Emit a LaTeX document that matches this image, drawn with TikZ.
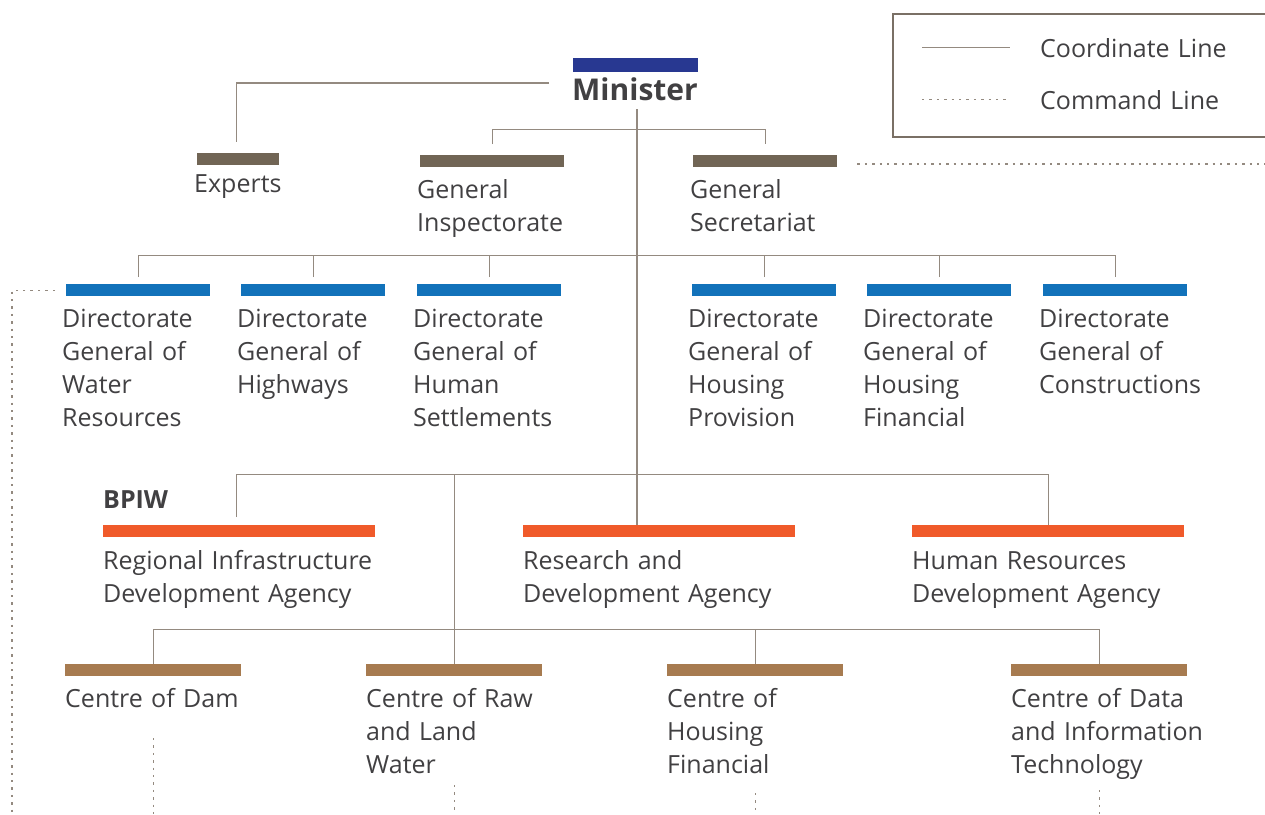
\documentclass[tikz,border=0pt]{standalone}
\usepackage{fontspec}
\setmainfont{Open Sans}
\usetikzlibrary{positioning}

\definecolor{ministerblue}{HTML}{283891}
\definecolor{staffbrown}{HTML}{716555}
\definecolor{dgblue}{HTML}{1272BA}
\definecolor{agencyorange}{HTML}{F05A2A}
\definecolor{centretan}{HTML}{A77B50}
\definecolor{linegrey}{HTML}{948A80}
\definecolor{boxgrey}{HTML}{7A7065}
\definecolor{textgrey}{HTML}{414042}

\tikzset{
  bar/.style={inner sep=0pt, minimum height=12pt, anchor=north west},
  unitname/.style={anchor=base west, inner sep=0pt, text width=320pt, align=left,
    font=\fontsize{25}{33}\selectfont, text=textgrey},
  coordline/.style={draw=linegrey, line width=1.4pt},
  cmdline/.style={draw=linegrey, line width=1.3pt, dash pattern=on 2.4pt off 5pt},
}

\begin{document}
\begin{tikzpicture}[x=1pt, y=-1pt]
\useasboundingbox (0,0) rectangle (1265,814);

% legend
\draw [boxgrey, line width=1.4pt] (893,14) rectangle (1270,137);
\coordinate (legA) at (922,47.5);
\coordinate (legB) at (1010,47.5);
\coordinate (legC) at (922,99.5);
\coordinate (legD) at (1008,99.5);
\draw [coordline] (legA) -- (legB);
\draw [cmdline] (legC) -- (legD);
\node [unitname, text width=200pt] (legcoord) at (1040,57)  {Coordinate Line};
\node [unitname, text width=200pt] (legcmd)   at (1040,109) {Command Line};

% minister
\node [bar, fill=ministerblue, minimum width=125pt, minimum height=14pt] (minister) at (573,58) {};
\node [anchor=base west, inner sep=0pt, font=\fontsize{30}{36}\selectfont\bfseries, text=textgrey]
  (mintext) at (572,100) {Minister};
\coordinate (mleft) at (549,83);
\coordinate (mdown) at (637,109);

% experts, inspectorate, secretariat
\node [bar, fill=staffbrown, minimum width=82pt]  (experts) at (197,153) {};
\node [bar, fill=staffbrown, minimum width=144pt] (insp)    at (420,155) {};
\node [bar, fill=staffbrown, minimum width=144pt] (secr)    at (693,155) {};
\node [unitname] (experts-t) at ([xshift=-3pt,yshift=-27pt]experts.south west) {Experts};
\node [unitname] (insp-t) at ([xshift=-3pt,yshift=-31pt]insp.south west) {General\\Inspectorate};
\node [unitname] (secr-t) at ([xshift=-3pt,yshift=-31pt]secr.south west) {General\\Secretariat};

% directorates general
\foreach \n/\x/\txt in {dgwr/66/{Directorate\\General of\\Water\\Resources},
                        dgh/241/{Directorate\\General of\\Highways},
                        dghs/417/{Directorate\\General of\\Human\\Settlements},
                        dghp/692/{Directorate\\General of\\Housing\\Provision},
                        dghf/867/{Directorate\\General of\\Housing\\Financial},
                        dgc/1043/{Directorate\\General of\\Constructions}} {
  \node [bar, fill=dgblue, minimum width=144pt] (\n) at (\x,284) {};
  \node [unitname] (\n-t) at ([xshift=-4pt,yshift=-31pt]\n.south west) {\txt};
}

% agencies
\foreach \n/\x/\txt in {rida/103/{Regional Infrastructure\\Development Agency},
                        rda/523/{Research and\\Development Agency},
                        hrda/912/{Human Resources\\Development Agency}} {
  \node [bar, fill=agencyorange, minimum width=272pt] (\n) at (\x,525) {};
  \node [unitname] (\n-t) at ([yshift=-32pt]\n.south west) {\txt};
}
\node [anchor=base west, inner sep=0pt, font=\fontsize{25}{30}\selectfont\bfseries, text=textgrey]
  (bpiw) at (103,508) {BPIW};

% centres
\foreach \n/\x/\txt in {dam/65/{Centre of Dam},
                        raw/366/{Centre of Raw\\and Land\\Water},
                        chf/667/{Centre of\\Housing\\Financial},
                        cdit/1011/{Centre of Data\\and Information\\Technology}} {
  \node [bar, fill=centretan, minimum width=176pt] (\n) at (\x,664) {};
  \node [unitname] (\n-t) at ([yshift=-31pt]\n.south west) {\txt};
}

% coordinate lines
\coordinate (l1) at (637,129.5);
\coordinate (l2) at (637,255.5);
\coordinate (l3) at (637,474.5);
\coordinate (l4) at (454,629.5);
\draw [coordline] (mleft) -| ([xshift=-2pt,yshift=11pt]experts.north);
\draw [coordline] (mdown) -- (mdown |- rda.north);
\draw [coordline] ([yshift=11pt]insp.north) |- (l1) -| ([yshift=11pt]secr.north);
\foreach \n in {dgwr,dgh,dghs,dghp,dghf,dgc}
  \draw [coordline] ([yshift=7pt]\n.north) |- (l2);
\draw [coordline] ([xshift=-3pt,yshift=8pt]rida.north) |- (l3) -| (hrda.north);
\draw [coordline] (raw.north) -- (raw.north |- l3);
\draw [coordline] (dam.north) |- (l4) -| (cdit.north);
\draw [coordline] (chf.north) -- (chf.north |- l4);

% command lines
\coordinate (cmdR) at (1265,164);
\coordinate (cmdL) at (12,814);
\draw [cmdline] ([xshift=20pt]secr.east |- cmdR) -- (cmdR);
\draw [cmdline] ([xshift=-11pt]dgwr.west) -| (cmdL);
\foreach \n/\y in {dam/738,raw/785,chf/793,cdit/790}
  \draw [cmdline] (\n.north |- 0,\y) -- (\n.north |- 0,814);
\end{tikzpicture}
\end{document}
